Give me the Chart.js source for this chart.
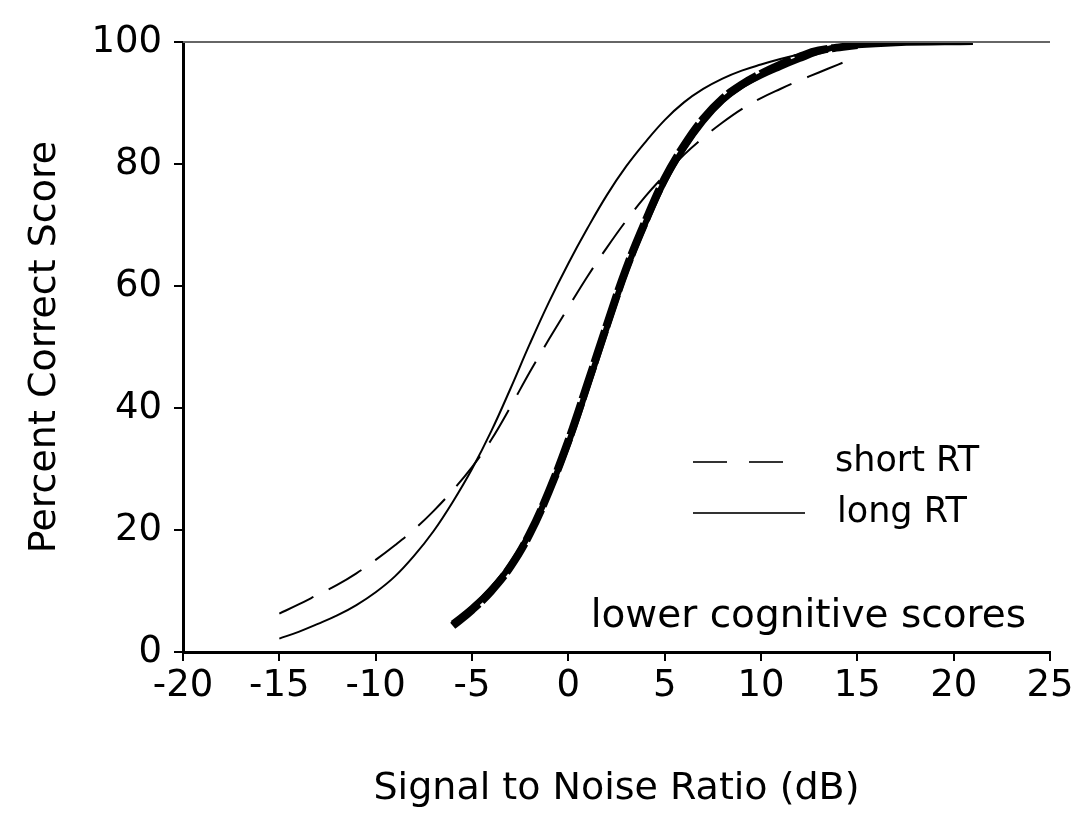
<!DOCTYPE html>
<html>
<head>
<meta charset="utf-8">
<script src="https://cdn.jsdelivr.net/npm/chart.js@4.4.1/dist/chart.umd.min.js"></script>
<style>
  body { margin: 0; background: #fff; }
  #wrap { width: 1077px; height: 816px; }
</style>
</head>
<body>
<div id="wrap"><canvas id="snrChart" width="1077" height="816"></canvas></div>
<script>
// x ticks and y ticks
const xTicks = [-20, -15, -10, -5, 0, 5, 10, 15, 20, 25];
const yTicks = [0, 20, 40, 60, 80, 100];

// thin curves
const shortRtX = [-15, -14, -13, -12, -11, -10, -9, -8, -7, -6, -5, -4, -3, -2, -1, 0, 1, 2, 3, 4, 5, 6, 7, 8, 9, 10, 11, 12, 13, 14, 14.7];
const shortRtY = [6.3, 7.8, 9.4, 11.0, 12.9, 15.1, 17.5, 20.1, 23.1, 26.5, 30.3, 34.8, 40.2, 45.9, 51.3, 56.5, 61.6, 66.3, 70.7, 74.7, 78.2, 81.5, 84.3, 86.8, 89.0, 90.8, 92.3, 93.7, 95.0, 96.3, 97.2];

const longRtX = [-15, -14, -13, -12, -11, -10, -9, -8, -7, -6, -5, -4, -3, -2, -1, 0, 1, 2, 3, 4, 5, 6, 7, 8, 9, 10, 11, 12, 13, 15, 18, 21];
const longRtY = [2.2, 3.3, 4.6, 6.0, 7.7, 9.8, 12.4, 15.8, 19.8, 24.6, 30.0, 36.2, 43.2, 50.5, 57.4, 63.7, 69.5, 74.9, 79.6, 83.6, 87.2, 90.1, 92.3, 94.0, 95.3, 96.3, 97.2, 98.0, 98.7, 99.5, 99.9, 100];

// thick curves
const shortRtThickX = [-6, -5, -4, -3, -2, -1, 0, 1, 2, 3, 4, 5, 6, 7, 8, 9, 10, 11, 12, 13, 15];
const shortRtThickY = [4.3, 6.9, 10.0, 14.0, 19.4, 26.4, 34.6, 44.0, 53.6, 62.8, 70.6, 77.6, 83.0, 87.4, 90.7, 93.0, 94.8, 96.3, 97.6, 98.6, 99.5];

const longRtThickX = [-6, -5, -4, -3, -2, -1, 0, 1, 2, 3, 4, 5, 6, 7, 8, 9, 10, 11, 12, 13, 14, 17, 21];
const longRtThickY = [4.7, 7.2, 10.3, 14.2, 19.5, 26.3, 34.2, 43.5, 53.2, 62.5, 70.3, 77.2, 82.6, 87.0, 90.4, 92.8, 94.5, 95.9, 97.2, 98.4, 99.2, 99.8, 100];

const legendLabels = ['short RT', 'long RT'];
const noteText = 'lower cognitive scores';

const FONT = '"DejaVu Sans", "Liberation Sans", Arial, sans-serif';

function pts(xs, ys) {
    return xs.map((x, i) => ({ x: x, y: ys[i] }));
}

// legend, note and the thin frame line on top
const extras = {
    id: 'extras',
    afterDatasetsDraw(chart) {
        const ctx = chart.ctx;
        const area = chart.chartArea;
        ctx.save();

        ctx.strokeStyle = '#666';
        ctx.lineWidth = 2;
        ctx.beginPath();
        ctx.moveTo(area.left, area.top);
        ctx.lineTo(area.right, area.top);
        ctx.stroke();

        const lx = area.left + 510;
        const ly = area.top + 420;
        ctx.strokeStyle = '#333';
        ctx.lineWidth = 2;
        ctx.setLineDash([34, 22]);
        ctx.beginPath();
        ctx.moveTo(lx, ly);
        ctx.lineTo(lx + 100, ly);
        ctx.stroke();
        ctx.setLineDash([]);
        ctx.beginPath();
        ctx.moveTo(lx, ly + 51);
        ctx.lineTo(lx + 112, ly + 51);
        ctx.stroke();

        ctx.fillStyle = '#000';
        ctx.font = '35px ' + FONT;
        ctx.textBaseline = 'middle';
        ctx.textAlign = 'left';
        ctx.fillText(legendLabels[0], lx + 142, ly);
        ctx.fillText(legendLabels[1], lx + 144, ly + 51);

        ctx.font = '39px ' + FONT;
        ctx.textAlign = 'right';
        ctx.fillText(noteText, area.right - 24, area.bottom - 35);
        ctx.restore();
    }
};

function curve(label, xs, ys, width, dash) {
    return {
        label: label,
        data: pts(xs, ys),
        borderColor: '#000',
        borderWidth: width,
        borderDash: dash,
        pointRadius: 0,
        tension: 0.4,
        fill: false
    };
}

const ctx = document.getElementById('snrChart').getContext('2d');
new Chart(ctx, {
    type: 'line',
    data: {
        datasets: [
            curve('short RT', shortRtX, shortRtY, 2, [38, 17]),
            curve('long RT', longRtX, longRtY, 2, []),
            curve('short RT (thick)', shortRtThickX, shortRtThickY, 8, [34, 4]),
            curve('long RT (thick)', longRtThickX, longRtThickY, 6, [])
        ]
    },
    options: {
        responsive: false,
        animation: false,
        layout: { padding: { top: 42, right: 27, left: 0, bottom: 0 } },
        plugins: {
            legend: { display: false },
            tooltip: { enabled: false }
        },
        scales: {
            x: {
                type: 'linear',
                min: xTicks[0],
                max: xTicks[xTicks.length - 1],
                afterBuildTicks: (scale) => { scale.ticks = xTicks.map(v => ({ value: v })); },
                afterFit: (scale) => { scale.height = 164; },
                border: { display: true, color: '#000', width: 3 },
                grid: { drawOnChartArea: false, drawTicks: true, tickLength: 9, color: '#000', lineWidth: 2 },
                ticks: { color: '#000', font: { family: FONT, size: 37 }, padding: 3, maxRotation: 0 },
                title: {
                    display: true,
                    text: 'Signal to Noise Ratio (dB)',
                    color: '#000',
                    font: { family: FONT, size: 38 },
                    padding: { top: 0, bottom: 4 }
                }
            },
            y: {
                type: 'linear',
                min: 0,
                max: 100,
                afterBuildTicks: (scale) => { scale.ticks = yTicks.map(v => ({ value: v })); },
                afterFit: (scale) => { scale.width = 183; },
                border: { display: true, color: '#000', width: 3 },
                grid: { drawOnChartArea: false, drawTicks: true, tickLength: 9, color: '#000', lineWidth: 2 },
                ticks: { color: '#000', font: { family: FONT, size: 37 }, padding: 12 },
                title: {
                    display: true,
                    text: 'Percent Correct Score',
                    color: '#000',
                    font: { family: FONT, size: 38 },
                    padding: { top: 22, bottom: 0 }
                }
            }
        }
    },
    plugins: [extras]
});
</script>
</body>
</html>
